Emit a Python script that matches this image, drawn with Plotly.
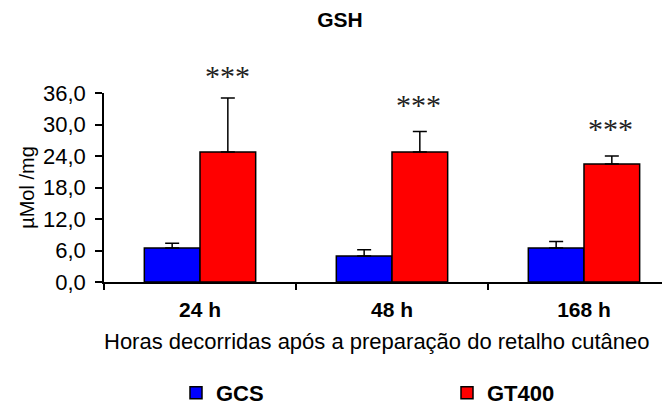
import plotly.graph_objects as go

categories = ["24 h", "48 h", "168 h"]
gcs_mean = [6.5, 4.95, 6.5]
gcs_err = [0.9, 1.2, 1.2]
gt400_mean = [24.75, 24.75, 22.5]
gt400_err = [10.3, 3.9, 1.5]
sig_labels = ["***", "***", "***"]
y_ticks = [0, 6, 12, 18, 24, 30, 36]

FONT = "Liberation Sans, Arial, sans-serif"
OFF = 8  # default page body margin
W, H = 670 - OFF, 409 - OFF
L, R, T, B = 104 - OFF, 670 - OFF, 93 - OFF, 282 - OFF
PW, PH = R - L, B - T

fig = go.Figure()
fig.add_trace(go.Bar(
    name="<b>GCS</b>", x=categories, y=gcs_mean,
    marker=dict(color="#0000FF", line=dict(color="black", width=1.5)),
    error_y=dict(type="data", array=gcs_err, arrayminus=[0]*3, symmetric=False,
                 color="black", thickness=1.5, width=7),
))
fig.add_trace(go.Bar(
    name="<b>GT400</b>", x=categories, y=gt400_mean,
    marker=dict(color="#FF0000", line=dict(color="black", width=1.5)),
    error_y=dict(type="data", array=gt400_err, arrayminus=[0]*3, symmetric=False,
                 color="black", thickness=1.5, width=7),
))

star_shift = [22, 27, 28]
for i, cat in enumerate(categories):
    fig.add_annotation(
        x=cat, y=gt400_mean[i] + gt400_err[i], xref="x", yref="y",
        text=sig_labels[i], showarrow=False, xshift=27, yshift=star_shift[i],
        yanchor="middle", font=dict(family="Liberation Serif", size=30, color="#222"),
    )

fig.add_annotation(
    x=(376 - OFF - L) / PW, y=-(341 - OFF - B) / PH, xref="paper", yref="paper",
    text="Horas decorridas após a preparação do retalho cutâneo",
    showarrow=False, font=dict(family=FONT, size=22, color="black"),
    xanchor="center", yanchor="middle",
)

fig.update_layout(
    width=W, height=H, autosize=False,
    margin=dict(l=L, r=W - R, t=T, b=H - B, autoexpand=False),
    paper_bgcolor="white", plot_bgcolor="white",
    separators=",.",
    barmode="group", bargap=0.42, bargroupgap=0,
    font=dict(family=FONT, color="black"),
    title=dict(text="<b>GSH</b>", x=(340 - OFF) / W, xanchor="center", y=1 - (20 - OFF) / H,
               yanchor="middle", font=dict(family=FONT, size=21, color="black")),
    xaxis=dict(range=[-0.5, 2.448], tickson="boundaries", ticks="outside", ticklen=6,
               tickwidth=1.5, tickcolor="black", showline=True, linecolor="black", linewidth=1.5,
               showgrid=False, tickfont=dict(family=FONT, size=21, color="black"),
               tickvals=categories, ticktext=["<b>%s</b>" % c for c in categories],
               ticklabelstandoff=8, fixedrange=True),
    yaxis=dict(range=[0, 36], tickvals=y_ticks, tickformat=".1f", ticks="outside", ticklen=7,
               tickwidth=1.5, tickcolor="black", showline=True, linecolor="black", linewidth=1.5,
               showgrid=False, zeroline=False, tickfont=dict(family=FONT, size=22, color="black"),
               ticklabelstandoff=5,
               title=dict(text="µMol /mg", font=dict(family=FONT, size=20, color="black"), standoff=3)),
    showlegend=True,
    legend=dict(orientation="h", x=(176 - OFF - L) / PW, xanchor="left", y=-(393 - OFF - B) / PH,
                yanchor="middle", font=dict(family=FONT, size=22, color="black"),
                itemwidth=30, entrywidth=226, traceorder="normal"),
)

fig.write_html("out.html")
